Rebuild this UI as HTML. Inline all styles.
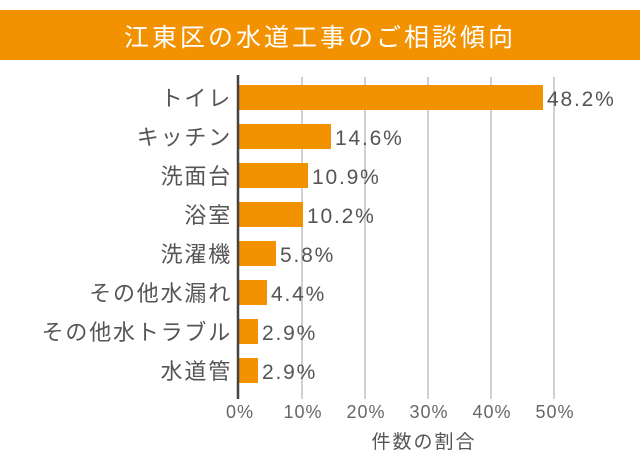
<!DOCTYPE html>
<html><head><meta charset="utf-8"><style>
body{margin:0;background:#fff;}
svg text{font-family:"Liberation Sans","Noto Sans CJK JP",sans-serif;}
</style></head><body>
<svg width="640" height="460" xmlns="http://www.w3.org/2000/svg">
<rect x="0" y="0" width="640" height="460" fill="#fff"/>
<rect x="0" y="10" width="640" height="50" fill="#f39200"/>
<text x="320" y="46" font-size="25" letter-spacing="3" fill="#fff" text-anchor="middle">江東区の水道工事のご相談傾向</text>
<g stroke="#d0d0d0" stroke-width="2">
<line x1="302" y1="77" x2="302" y2="399"/>
<line x1="365" y1="77" x2="365" y2="399"/>
<line x1="428" y1="77" x2="428" y2="399"/>
<line x1="491" y1="77" x2="491" y2="399"/>
<line x1="554" y1="77" x2="554" y2="399"/>
</g>
<g fill="#f39200">
<rect x="239" y="85" width="304" height="25"/>
<rect x="239" y="124" width="92" height="25"/>
<rect x="239" y="163" width="69" height="25"/>
<rect x="239" y="202" width="64" height="25"/>
<rect x="239" y="241" width="37" height="25"/>
<rect x="239" y="280" width="28" height="25"/>
<rect x="239" y="319" width="19" height="25"/>
<rect x="239" y="358" width="19" height="25"/>
</g>
<line x1="238" y1="75" x2="238" y2="399" stroke="#444" stroke-width="2.5"/>
<g font-size="22" letter-spacing="1.8" fill="#555" text-anchor="end">
<text x="232" y="106">トイレ</text>
<text x="232" y="145">キッチン</text>
<text x="232" y="184">洗面台</text>
<text x="232" y="223">浴室</text>
<text x="232" y="262">洗濯機</text>
<text x="232" y="301">その他水漏れ</text>
<text x="232" y="340">その他水トラブル</text>
<text x="232" y="379">水道管</text>
</g>
<g font-size="21" letter-spacing="1.8" fill="#555">
<text x="547" y="106">48.2%</text>
<text x="335" y="145">14.6%</text>
<text x="312" y="184">10.9%</text>
<text x="307" y="223">10.2%</text>
<text x="280" y="262">5.8%</text>
<text x="271" y="301">4.4%</text>
<text x="262" y="340">2.9%</text>
<text x="262" y="379">2.9%</text>
</g>
<g font-size="18" letter-spacing="1" fill="#666" text-anchor="middle">
<text x="240" y="418">0%</text>
<text x="303" y="418">10%</text>
<text x="366" y="418">20%</text>
<text x="429" y="418">30%</text>
<text x="492" y="418">40%</text>
<text x="555" y="418">50%</text>
</g>
<text x="424" y="448" font-size="19" letter-spacing="2" fill="#555" text-anchor="middle">件数の割合</text>
</svg>
</body></html>
